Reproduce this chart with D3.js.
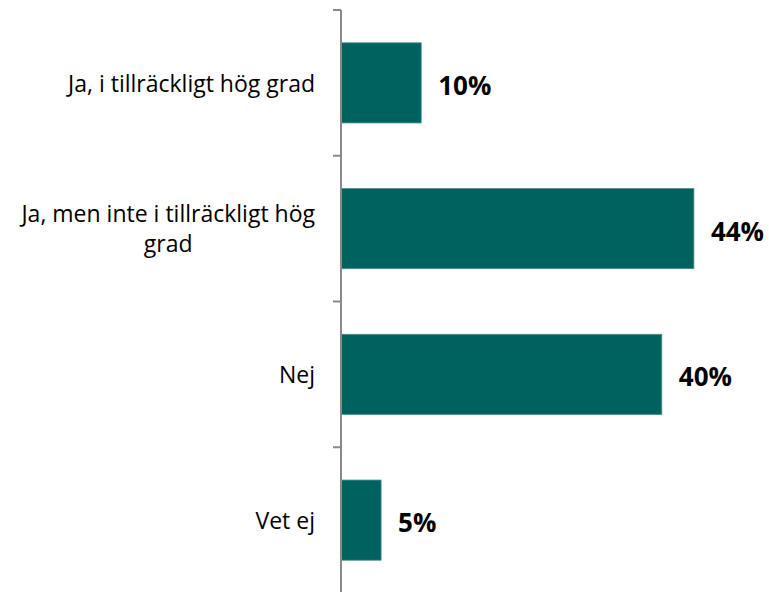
<!DOCTYPE html>
<html><head><meta charset="utf-8">
<script src="https://cdn.jsdelivr.net/npm/d3@7"></script>
<style>body{margin:0;background:#fff}svg{display:block}</style>
</head><body>
<svg id="c" width="769" height="592"></svg>
<script>
const categories = ["Ja, i tillräckligt hög grad", "Ja, men inte i tillräckligt hög grad", "Nej", "Vet ej"];
const values = [10, 44, 40, 5];
const valueLabels = ["10%", "44%", "40%", "5%"];

const svg = d3.select("#c");
const font = "'Open Sans', Lato, sans-serif";
const x = d3.scaleLinear().domain([0, 50]).range([341, 742]);
const y = d3.scaleBand().domain(categories).range([10, 593]).paddingInner(0.45).paddingOuter(0.225);
const yb = d3.scaleBand().domain(categories).range([10, 593]);

svg.selectAll("rect.bar").data(categories).join("rect")
  .attr("class","bar")
  .attr("x", x(0)).attr("y", d => y(d))
  .attr("width", (d,i) => x(values[i]) - x(0))
  .attr("height", y.bandwidth())
  .attr("fill", "#00625F").attr("stroke", "#4a8f8b").attr("stroke-width", 0.8);

const axisG = svg.append("g");
axisG.append("line").attr("x1", 341).attr("x2", 341).attr("y1", 10).attr("y2", 592)
  .attr("stroke", "#898989").attr("stroke-width", 2);
const bounds = categories.map(d => yb(d)).concat([yb.range()[1]]);
axisG.selectAll("line.t").data(bounds).join("line").attr("class","t")
  .attr("x1", 333).attr("x2", 341).attr("y1", d => d).attr("y2", d => d)
  .attr("stroke", "#898989").attr("stroke-width", 2);

const fs = 23, maxW = 312, lh = 30;
categories.forEach(c => {
  const cy = yb(c) + yb.bandwidth()/2 + 0.8;
  const t = svg.append("text").attr("font-family", font).attr("font-size", fs).attr("fill", "#000");
  const words = c.split(" ");
  let lines = [], cur = "";
  const meas = svg.append("text").attr("font-family", font).attr("font-size", fs);
  words.forEach(w => {
    const test = cur ? cur + " " + w : w;
    meas.text(test);
    if (meas.node().getComputedTextLength() > maxW && cur) { lines.push(cur); cur = w; } else cur = test;
  });
  lines.push(cur);
  let widths = lines.map(l => { meas.text(l); return meas.node().getComputedTextLength(); });
  meas.remove();
  const right = 315;
  const mw = d3.max(widths);
  const anchorX = lines.length > 1 ? right - mw/2 : right;
  t.attr("text-anchor", lines.length > 1 ? "middle" : "end");
  lines.forEach((l, i) => {
    t.append("tspan").attr("x", anchorX)
      .attr("y", cy + (i - (lines.length-1)/2) * lh)
      .attr("dy", "0.35em").text(l);
  });
});

svg.selectAll("text.v").data(categories).join("text").attr("class","v")
  .attr("x", (d,i) => x(values[i]) + 17)
  .attr("y", d => y(d) + y.bandwidth()/2 + 3)
  .attr("dy", "0.35em")
  .attr("font-family", font).attr("font-size", 26).attr("font-weight", "bold")
  .text((d,i) => valueLabels[i]);
</script>
</body></html>
